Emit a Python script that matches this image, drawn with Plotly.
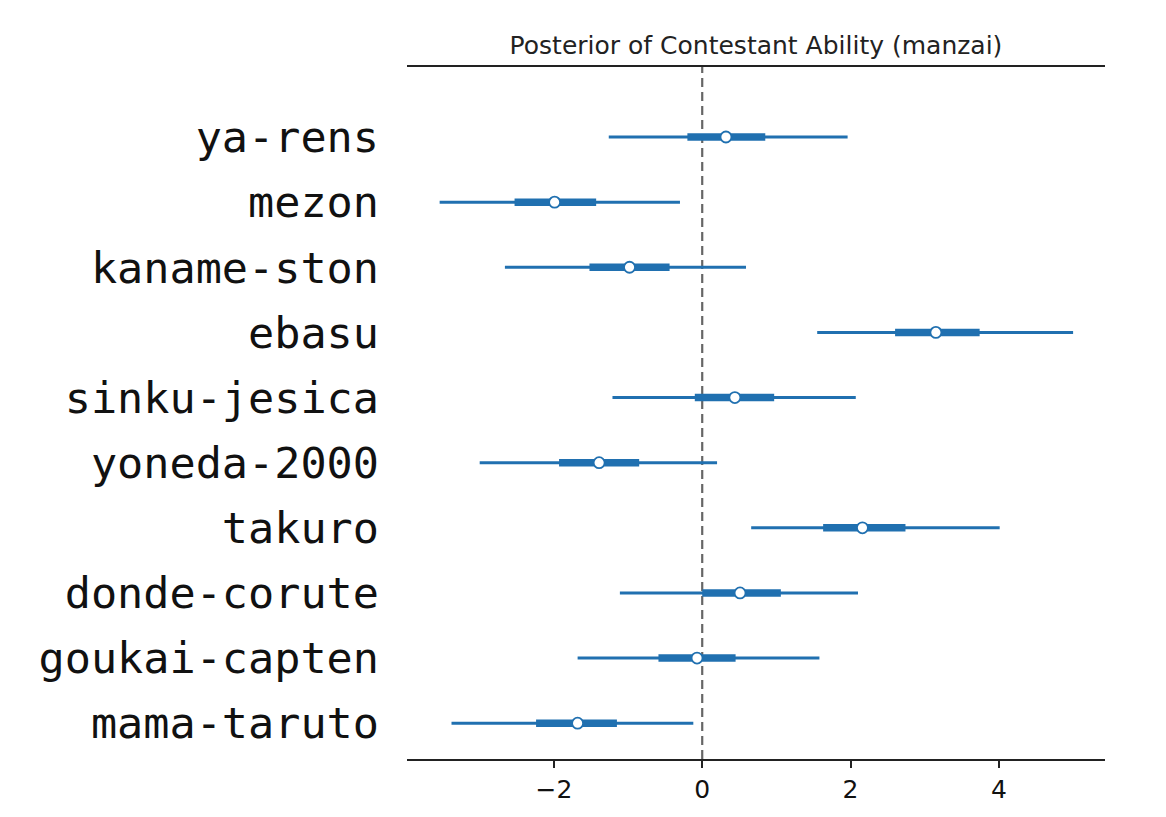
import plotly.graph_objects as go

contestants = ["ya-rens", "mezon", "kaname-ston", "ebasu", "sinku-jesica",
               "yoneda-2000", "takuro", "donde-corute", "goukai-capten", "mama-taruto"]
median = [0.32, -1.99, -0.98, 3.15, 0.44, -1.39, 2.16, 0.51, -0.07, -1.68]
hdi_low = [-1.26, -3.54, -2.66, 1.55, -1.21, -3.00, 0.66, -1.11, -1.68, -3.38]
hdi_high = [1.96, -0.30, 0.59, 5.00, 2.07, 0.20, 4.01, 2.10, 1.58, -0.12]
iqr_low = [-0.20, -2.53, -1.52, 2.60, -0.10, -1.93, 1.63, 0.00, -0.59, -2.24]
iqr_high = [0.85, -1.43, -0.44, 3.74, 0.97, -0.85, 2.74, 1.06, 0.45, -1.15]
x_ticks = [-2, 0, 2, 4]
x_tick_labels = ["\u22122", "0", "2", "4"]
title = "Posterior of Contestant Ability (manzai)"

BLUE = "#2070b0"
n = len(contestants)
ypos = [n - 1 - i for i in range(n)]

W, H = 1158, 809
L, R, T, B = 399, 61, 59, 58

fig = go.Figure()
for i in range(n):
    fig.add_trace(go.Scatter(x=[hdi_low[i], hdi_high[i]], y=[ypos[i], ypos[i]],
                             mode="lines", line=dict(color=BLUE, width=3),
                             showlegend=False, hoverinfo="skip"))
    fig.add_trace(go.Scatter(x=[iqr_low[i], iqr_high[i]], y=[ypos[i], ypos[i]],
                             mode="lines", line=dict(color=BLUE, width=7.5),
                             showlegend=False, hoverinfo="skip"))
fig.add_trace(go.Scatter(x=median, y=ypos, mode="markers",
                         marker=dict(size=11, color="white",
                                     line=dict(color=BLUE, width=1.8)),
                         showlegend=False, text=contestants))

fig.add_shape(type="line", x0=0, x1=0, y0=0, y1=1, xref="x", yref="paper",
              line=dict(color="#666666", width=2.2, dash="9px,5px"), layer="below")

fig.update_layout(
    width=W, height=H,
    margin=dict(l=L, r=R, t=T, b=B),
    paper_bgcolor="white", plot_bgcolor="white",
    title=dict(text=title, x=(L + (W - R)) / 2 / W, xanchor="center",
               y=1 - 37 / H, yanchor="middle", yref="container",
               font=dict(family="DejaVu Sans", size=25, color="#222")),
    xaxis=dict(range=[-3.98, 5.43], tickvals=x_ticks, ticktext=x_tick_labels,
               showgrid=False, zeroline=False, showline=True, linecolor="#222",
               linewidth=1.5, mirror=True, ticks="outside", ticklen=7,
               tickwidth=1.5, tickcolor="#222",
               tickfont=dict(family="DejaVu Sans", size=25, color="#111")),
    yaxis=dict(range=[-0.55, n - 1 + 1.075], tickvals=ypos, ticktext=contestants,
               showgrid=False, zeroline=False, showline=False, ticks="",
               ticklen=0, ticklabelstandoff=27,
               tickfont=dict(family="DejaVu Sans Mono", size=43.5, color="#111")),
)
fig.write_html("out.html")
